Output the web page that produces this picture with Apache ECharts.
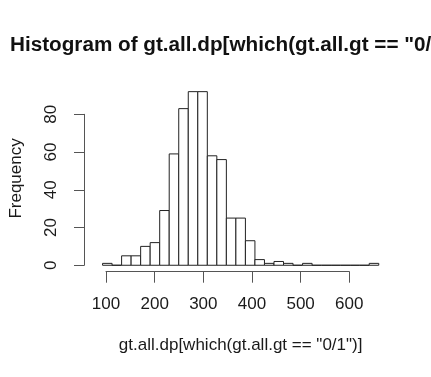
<!DOCTYPE html>
<html><head><meta charset="utf-8">
<script src="https://cdn.jsdelivr.net/npm/echarts@6/dist/echarts.min.js"></script>
<style>html,body{margin:0;padding:0;background:#fff}#c{width:431px;height:377px}</style>
</head><body><div id="c"></div>
<script>
const titleText = 'Histogram of gt.all.dp[which(gt.all.gt == "0/1")]';
const xLabel = 'gt.all.dp[which(gt.all.gt == "0/1")]';
const yLabel = 'Frequency';
const binStarts = [80,100,120,140,160,180,200,220,240,260,280,300,320,340,360,380,400,420,440,460,480,500,520,540,560,580,600,620,640];
const binEnds   = [100,120,140,160,180,200,220,240,260,280,300,320,340,360,380,400,420,440,460,480,500,520,540,560,580,600,620,640,660];
const counts    = [1,0,5,5,10,12,29,59,83,92,92,58,56,25,25,13,3,1,2,1,0,1,0,0,0,0,0,0,1];
const xTicks = [100,200,300,400,500,600];
const yTicks = [0,20,40,60,80];

const FONT = '"Liberation Sans", Arial, Helvetica, sans-serif';
const TXT = '#1a1a1a';
const AX = '#555';

const bMin = binStarts[0], bMax = binEnds[binEnds.length-1];
const xPad = (bMax - bMin) * 0.04;
const cMax = Math.max(...counts);
const yPad = cMax * 0.04;

const data = binStarts.map((s,i)=>[s, binEnds[i], counts[i]]);

const chart = echarts.init(document.getElementById('c'), null, {renderer:'canvas'});
chart.setOption({
  animation: false,
  backgroundColor: '#fff',
  title: {
    text: titleText, left: 10, top: 45.5, padding: 0,
    textVerticalAlign: 'middle',
    textStyle: {fontFamily: FONT, fontSize: 20.7, fontWeight: 'bold', color: '#111'}
  },
  grid: [
    {left: 85, right: 41.2, top: 84.7, bottom: 104.8},
    {left: 106, width: 243.3, bottom: 105.3, height: 10},
    {left: 84, width: 10, top: 114.3, bottom: 111.7}
  ],
  xAxis: [
    {gridIndex: 0, type: 'value', min: bMin - xPad, max: bMax + xPad,
     axisLine: {show: false}, axisTick: {show: false}, axisLabel: {show: false}, splitLine: {show: false},
     name: xLabel, nameLocation: 'middle', nameGap: 65,
     nameTextStyle: {fontFamily: FONT, fontSize: 17, color: TXT}},
    {gridIndex: 1, type: 'value', min: xTicks[0], max: xTicks[xTicks.length-1], interval: xTicks[1]-xTicks[0],
     axisLine: {show: true, lineStyle: {color: AX, width: 1}},
     axisTick: {show: true, length: 11, lineStyle: {color: AX, width: 1}},
     axisLabel: {show: true, margin: 24.5, fontFamily: FONT, fontSize: 17, color: TXT},
     splitLine: {show: false}},
    {gridIndex: 2, type: 'value', show: false}
  ],
  yAxis: [
    {gridIndex: 0, type: 'value', min: -yPad, max: cMax + yPad,
     axisLine: {show: false}, axisTick: {show: false}, axisLabel: {show: false}, splitLine: {show: false},
     name: yLabel, nameLocation: 'middle', nameGap: 66.5, nameRotate: 90,
     nameTextStyle: {fontFamily: FONT, fontSize: 17, color: TXT}},
    {gridIndex: 1, type: 'value', show: false},
    {gridIndex: 2, type: 'value', min: yTicks[0], max: yTicks[yTicks.length-1], interval: yTicks[1]-yTicks[0],
     axisLine: {show: true, lineStyle: {color: AX, width: 1}},
     axisTick: {show: true, length: 10, lineStyle: {color: AX, width: 1}},
     axisLabel: {show: true, rotate: 90, margin: 24, fontFamily: FONT, fontSize: 17, color: TXT},
     splitLine: {show: false}}
  ],
  series: [{
    type: 'custom', xAxisIndex: 0, yAxisIndex: 0,
    data: data,
    encode: {x: [0,1], y: 2},
    renderItem: function(params, api){
      const p0 = api.coord([api.value(0), 0]);
      const p1 = api.coord([api.value(1), api.value(2)]);
      return {type: 'rect',
        shape: {x: p0[0], y: p1[1], width: p1[0]-p0[0], height: p0[1]-p1[1]},
        style: {fill: '#fff', stroke: '#222', lineWidth: 1}};
    }
  }]
});
</script>
</body></html>
